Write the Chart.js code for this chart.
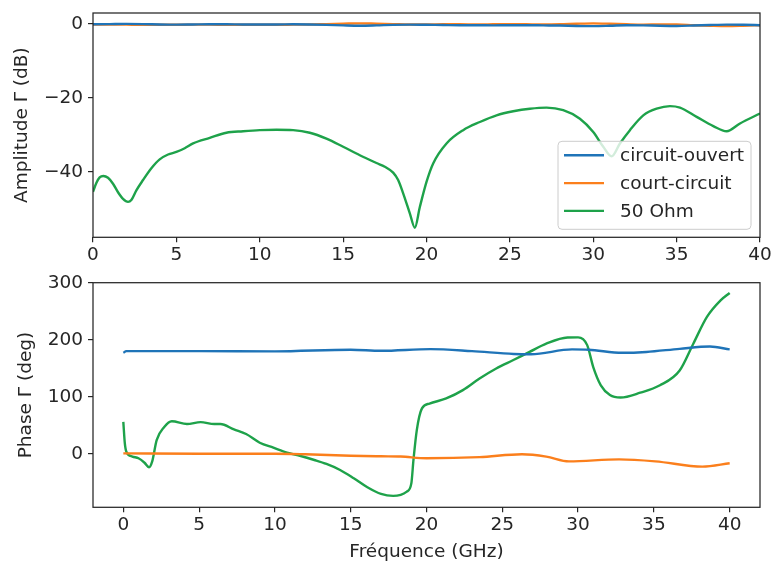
<!DOCTYPE html>
<html lang="fr">
<head>
<meta charset="UTF-8">
<title>Coefficient de réflexion</title>
<script src="https://cdn.jsdelivr.net/npm/chart.js"></script>
<style>
  body { margin: 0; background: #fff; }
  .wrap { position: relative; width: 771px; height: 565px; }
  #ampChart { position: absolute; left: 0; top: 0; }
  #phaseChart { position: absolute; left: 0; top: 270px; }
</style>
</head>
<body>
<div class="wrap">
  <canvas id="ampChart" width="771" height="270"></canvas>
  <canvas id="phaseChart" width="771" height="295"></canvas>
</div>
<script>
// --- data ---
const seriesNames = ['circuit-ouvert', 'court-circuit', '50 Ohm'];

// amplitude (dB), open / short sampled every 1 GHz
const freqGrid = [0,1,2,3,4,5,6,7,8,9,10,11,12,13,14,15,16,17,18,19,20,21,22,23,24,25,26,27,28,29,30,31,32,33,34,35,36,37,38,39,40];
const ampOpen  = [-0.05,0,0.05,0,-0.1,-0.15,-0.1,-0.05,-0.05,-0.1,-0.1,-0.1,-0.05,-0.1,-0.2,-0.35,-0.45,-0.35,-0.2,-0.15,-0.2,-0.25,-0.3,-0.3,-0.35,-0.3,-0.3,-0.35,-0.4,-0.5,-0.55,-0.45,-0.3,-0.35,-0.45,-0.5,-0.4,-0.25,-0.15,-0.2,-0.3];
const ampShort = [-0.1,-0.1,-0.15,-0.2,-0.2,-0.2,-0.15,-0.15,-0.2,-0.2,-0.2,-0.2,-0.15,-0.1,0,0.1,0.2,0.1,0,-0.1,-0.1,-0.05,-0.05,-0.1,-0.05,0,-0.05,-0.1,-0.05,0.1,0.2,0.1,-0.05,-0.15,-0.1,-0.1,-0.3,-0.45,-0.55,-0.45,-0.3];

// amplitude (dB), 50 ohm load
const freqLoadAmp = [0,0.2,0.4,0.62,0.9,1.2,1.5,1.8,2.1,2.3,2.6,3,3.5,4,4.5,5,5.5,6,7,8,9,10,11,12,13,14,15,16,17,17.5,18,18.3,18.6,19,19.3,19.6,20,20.4,21.2,22.2,23.2,24.2,25.2,26.2,27.2,28.2,29.2,30,30.6,31.1,31.6,32.2,33,33.8,34.6,35.2,36.2,37.2,38,38.8,40];
const ampLoad     = [-45.4,-43,-41.5,-41.1,-41.6,-43.2,-45.5,-47.3,-48.1,-47.6,-45,-42.2,-39,-36.6,-35.3,-34.6,-33.6,-32.3,-30.8,-29.4,-29,-28.7,-28.6,-28.7,-29.4,-31,-33.2,-35.5,-37.6,-38.6,-40.2,-42.2,-45.8,-51.2,-55.1,-49.5,-42.7,-37.7,-32.3,-28.7,-26.5,-24.7,-23.6,-22.9,-22.6,-23.3,-25.6,-29.2,-33.2,-35.8,-32.3,-28.7,-24.7,-22.9,-22.2,-22.6,-25.1,-27.6,-29,-26.9,-24.2];

// phase (deg)
const freqOpenPh  = [0,0.2,5,10,15,17,20.25,23,25.75,26.9,29.6,30.7,32.9,34.5,36.7,38.7,40];
const phaseOpen   = [177,180,180,179.5,182.5,180.5,183.5,180,175,174.5,183,182.5,177,178.5,184,188,183];
const freqShortPh = [0,5,10,12,15,17,18.3,20,23.5,26.3,27.9,29.4,32.7,35.1,38.2,40];
const phaseShort  = [0.6,0,0,-1,-3.5,-4.5,-5,-8,-6,-1,-5,-13.4,-9.9,-13.4,-22.7,-16.8];
const freqLoadPh  = [0,0.1,0.2,0.6,1,1.4,1.7,1.9,2.2,2.7,3.2,4.2,5.1,6,6.4,7.3,8.1,9,9.9,10.8,11.7,12.6,13.4,14.3,15.2,16.1,17,17.8,18.7,19,19.14,19.36,19.7,20.2,21.3,22.4,23.5,24.6,25.7,26.8,27.9,29.3,30,30.6,31,31.5,32.1,32.8,34.1,35.4,36.7,37.6,38.5,39.4,40];
const phaseLoad   = [56,18,3.5,-5,-8,-15.8,-23.8,-14,24,47,57,52,55.5,52,52,42.6,34.5,19.3,10.5,1.8,-4,-11,-18,-28.5,-43,-58.8,-70.6,-74,-66.5,-52,-11,41.5,79.5,88,97,111.6,132,149.6,164,178.6,193,203.8,204,190.5,152,120,103,98.6,107,120,146,193,240,269,282];

const colors = ['#1f74b8', '#fb7f1c', '#1ea24a'];
const ink = '#262626';
const fontSize = 18.5;

Chart.defaults.font.family = "'DejaVu Sans', sans-serif";
Chart.defaults.font.size = fontSize;
Chart.defaults.color = ink;

function pts(xs, ys) { return xs.map((x, i) => ({ x: x, y: ys[i] })); }
function fmt(v) { return String(v).replace('-', '\u2212'); }
function line(label, data, color) {
  return { label: label, data: data, borderColor: color, backgroundColor: color,
           borderWidth: 2.4, pointRadius: 0, cubicInterpolationMode: 'monotone', fill: false };
}
function setTicks(values) {
  return function (scale) { scale.ticks = values.map(v => ({ value: v })); };
}
// fixed axis sizes so both plot boxes line up with the reference
function fixY(s) { s.width = 93; s.paddingTop = 0; s.paddingBottom = 0; }
function fixX(h) {
  return function (s) { s.height = h; s.paddingLeft = 0; s.paddingRight = 0; };
}

// box around the plot area, like matplotlib spines
const frame = {
  id: 'frame',
  afterDraw(chart) {
    const a = chart.chartArea, ctx = chart.ctx;
    ctx.save();
    ctx.strokeStyle = ink;
    ctx.lineWidth = 1.25;
    ctx.strokeRect(a.left, a.top, a.right - a.left, a.bottom - a.top);
    ctx.restore();
  }
};

// legend sitting inside the lower right corner of the top axes
const innerLegend = {
  id: 'innerLegend',
  afterDraw(chart) {
    const a = chart.chartArea, ctx = chart.ctx;
    const w = 193, h = 88;
    const x = a.right - 9 - w, y = a.bottom - 8 - h;
    ctx.save();
    ctx.beginPath();
    ctx.roundRect(x, y, w, h, 4);
    ctx.fillStyle = 'rgba(255,255,255,0.8)';
    ctx.fill();
    ctx.strokeStyle = '#cccccc';
    ctx.lineWidth = 1;
    ctx.stroke();
    ctx.font = fontSize + "px 'DejaVu Sans'";
    ctx.textBaseline = 'middle';
    chart.data.datasets.forEach((ds, i) => {
      const ly = y + 14 + i * 27.8;
      ctx.strokeStyle = ds.borderColor;
      ctx.lineWidth = 2.4;
      ctx.beginPath();
      ctx.moveTo(x + 6, ly);
      ctx.lineTo(x + 46, ly);
      ctx.stroke();
      ctx.fillStyle = ink;
      ctx.fillText(ds.label, x + 62, ly + 1);
    });
    ctx.restore();
  }
};

const tickGrid = { drawOnChartArea: false, drawTicks: true, tickLength: 5, color: ink, lineWidth: 1.2 };

new Chart(document.getElementById('ampChart'), {
  type: 'line',
  data: {
    datasets: [
      line(seriesNames[0], pts(freqGrid, ampOpen), colors[0]),
      line(seriesNames[1], pts(freqGrid, ampShort), colors[1]),
      line(seriesNames[2], pts(freqLoadAmp, ampLoad), colors[2])
    ]
  },
  options: {
    responsive: false,
    devicePixelRatio: 1,
    animation: false,
    layout: { padding: { top: 13, right: 11, left: 0, bottom: 0 } },
    plugins: { legend: { display: false }, tooltip: { enabled: false } },
    scales: {
      x: {
        type: 'linear', min: 0, max: 40,
        border: { display: false },
        grid: tickGrid,
        ticks: { padding: 2, maxRotation: 0, callback: fmt },
        afterBuildTicks: setTicks([0, 5, 10, 15, 20, 25, 30, 35, 40]),
        afterFit: fixX(32.7)
      },
      y: {
        min: -57.7, max: 3,
        border: { display: false },
        grid: tickGrid,
        ticks: { padding: 5, callback: fmt },
        afterBuildTicks: setTicks([-40, -20, 0]),
        afterFit: fixY,
        title: { display: true, text: 'Amplitude \u0393 (dB)', padding: { top: 11, bottom: 0 } }
      }
    }
  },
  plugins: [frame, innerLegend]
});

new Chart(document.getElementById('phaseChart'), {
  type: 'line',
  data: {
    datasets: [
      line(seriesNames[0], pts(freqOpenPh, phaseOpen), colors[0]),
      line(seriesNames[1], pts(freqShortPh, phaseShort), colors[1]),
      line(seriesNames[2], pts(freqLoadPh, phaseLoad), colors[2])
    ]
  },
  options: {
    responsive: false,
    devicePixelRatio: 1,
    animation: false,
    layout: { padding: { top: 12.7, right: 11, left: 0, bottom: 0 } },
    plugins: { legend: { display: false }, tooltip: { enabled: false } },
    scales: {
      x: {
        type: 'linear', min: -2, max: 42,
        border: { display: false },
        grid: tickGrid,
        ticks: { padding: 2, maxRotation: 0, callback: fmt },
        afterBuildTicks: setTicks([0, 5, 10, 15, 20, 25, 30, 35, 40]),
        afterFit: fixX(57.7),
        title: { display: true, text: 'Fr\u00e9quence (GHz)', padding: { top: 0, bottom: 2 } }
      },
      y: {
        min: -94, max: 300,
        border: { display: false },
        grid: tickGrid,
        ticks: { padding: 5, callback: fmt },
        afterBuildTicks: setTicks([0, 100, 200, 300]),
        afterFit: fixY,
        title: { display: true, text: 'Phase \u0393 (deg)', padding: { top: 15, bottom: 0 } }
      }
    }
  },
  plugins: [frame]
});
</script>
</body>
</html>
